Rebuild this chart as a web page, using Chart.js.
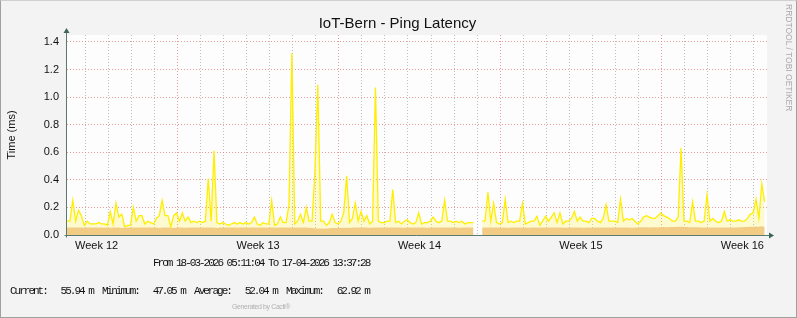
<!DOCTYPE html>
<html>
<head>
<meta charset="utf-8">
<title>IoT-Bern - Ping Latency</title>
<script src="https://cdn.jsdelivr.net/npm/chart.js@4/dist/chart.umd.min.js"></script>
<style>
  html, body { margin: 0; padding: 0; background: #f3f3f3; }
  #wrap { position: relative; width: 797px; height: 318px; overflow: hidden; }
  #frame { position: absolute; left: 0; top: 0; width: 797px; height: 318px; box-sizing: border-box;
           border: 1px solid; border-color: #d0d0d0 #a0a0a0 #a0a0a0 #a0a0a0; pointer-events: none; }
  canvas { position: absolute; left: 0; top: 0; }
  .txt { position: absolute; white-space: pre; }
  #title { left: 0; width: 795px; top: 14px; text-align: center; font: 15px/18px "Liberation Sans", Arial, sans-serif; color: #111; }
  .mono { font: 11px/12px "Liberation Mono", "Courier New", monospace; letter-spacing: -2px; color: #111; }
  #range { left: 153px; top: 257px; }
  #stats { left: 10px; top: 284.5px; }
  #cacti { left: 211px; width: 100px; text-align: center; top: 302px; font: 7px/9px "Liberation Sans", sans-serif; letter-spacing: -0.4px; color: #b0b0b0; }
  #rrd { left: 784px; top: 4px; writing-mode: vertical-rl; font: 8.5px/9px "Liberation Sans", sans-serif; color: #aaaaaa; }
</style>
</head>
<body>
<div id="wrap">
  <canvas id="chart" width="797" height="318"></canvas>
  <div class="txt" id="title">IoT-Bern - Ping Latency</div>
  <div class="txt mono" id="range">From 18-03-2026 05:11:04 To 17-04-2026 13:37:28</div>
  <div class="txt mono" id="stats">Current:   55.94 m  Minimum:   47.05 m  Average:   52.04 m  Maximum:   62.92 m</div>
  <div class="txt" id="cacti">Generated by Cacti®</div>
  <div class="txt" id="rrd">RRDTOOL / TOBI OETIKER</div>
  <div id="frame"></div>
</div>
<script>
// time window of the graph and sample step (rrd consolidation)
const startTime = '2026-03-18T05:11:04';
const endTime = '2026-04-17T13:37:28';
const stepHours = 3;

// max latency (ms), yellow line
const pingMax = [
  0.10, 0.10, 0.25, 0.10, 0.18, 0.14, 0.07, 0.10, 0.08, 0.08,
  0.08, 0.09, 0.08, 0.08, 0.07, 0.17, 0.08, 0.23, 0.13, 0.15,
  0.06, 0.07, 0.07, 0.20, 0.10, 0.14, 0.14, 0.08, 0.10, 0.09,
  0.08, 0.12, 0.14, 0.25, 0.14, 0.14, 0.06, 0.14, 0.16, 0.10,
  0.16, 0.10, 0.13, 0.09, 0.10, 0.09, 0.10, 0.09, 0.10, 0.41,
  0.10, 0.61, 0.09, 0.08, 0.09, 0.08, 0.07, 0.08, 0.09, 0.08,
  0.09, 0.08, 0.09, 0.08, 0.09, 0.13, 0.08, 0.07, 0.09, 0.08,
  0.08, 0.25, 0.07, 0.08, 0.13, 0.09, 0.09, 0.22, 1.32, 0.08,
  0.10, 0.15, 0.09, 0.20, 0.10, 0.10, 0.46, 1.09, 0.10, 0.10,
  0.07, 0.09, 0.15, 0.09, 0.08, 0.10, 0.16, 0.43, 0.09, 0.12,
  0.23, 0.10, 0.17, 0.10, 0.14, 0.08, 0.10, 1.07, 0.10, 0.09,
  0.09, 0.10, 0.10, 0.33, 0.09, 0.10, 0.08, 0.10, 0.11, 0.09,
  0.08, 0.09, 0.16, 0.08, 0.09, 0.09, 0.10, 0.13, 0.10, 0.09,
  0.10, 0.25, 0.10, 0.10, 0.09, 0.10, 0.09, 0.10, 0.08, 0.09,
  0.09, 0.09, null, null, 0.10, 0.10, 0.31, 0.10, 0.23, 0.09,
  0.08, 0.09, 0.26, 0.09, 0.10, 0.09, 0.10, 0.10, 0.23, 0.08,
  0.09, 0.10, 0.10, 0.135, 0.07, 0.10, 0.135, 0.10, 0.13, 0.16,
  0.09, 0.16, 0.08, 0.10, 0.10, 0.12, 0.17, 0.10, 0.13, 0.10,
  0.10, 0.09, 0.12, 0.12, 0.10, 0.09, 0.12, 0.22, 0.10, 0.10,
  0.10, 0.09, 0.26, 0.10, 0.12, 0.11, 0.12, 0.10, 0.08, 0.10,
  0.13, 0.14, 0.13, 0.12, 0.12, 0.14, 0.16, 0.14, 0.13, 0.12,
  0.10, 0.10, 0.13, 0.63, 0.10, 0.10, 0.09, 0.24, 0.10, 0.10,
  0.09, 0.10, 0.29, 0.10, 0.12, 0.10, 0.09, 0.10, 0.17, 0.10,
  0.11, 0.10, 0.10, 0.11, 0.10, 0.10, 0.12, 0.15, 0.16, 0.26,
  0.12, 0.37, 0.24
];

// average latency (ms), orange area
const pingAvg = [
  .055, .055, .055, .054, .055, .055, .055, .054, .055, .055,
  .055, .054, .055, .055, .054, .053, .055, .055, .054, .050,
  .055, .055, .055, .054, .055, .055, .055, .055, .054, .055,
  .055, .055, .050, .055, .055, .054, .055, .050, .055, .055,
  .055, .053, .055, .055, .054, .055, .055, .055, .054, .055,
  .055, .055, .050, .055, .055, .055, .054, .055, .055, .055,
  .055, .054, .055, .055, .055, .054, .055, .055, .055, .054,
  .055, .054, .055, .055, .055, .055, .055, .054, .055, .055,
  .055, .054, .055, .055, .052, .050, .049, .047, .048, .048,
  .048, .049, .050, .050, .051, .052, .052, .053, .053, .054,
  .055, .055, .054, .055, .055, .053, .054, .055, .055, .055,
  .055, .054, .055, .055, .054, .055, .055, .053, .055, .055,
  .055, .055, .054, .055, .055, .053, .055, .055, .055, .055,
  .055, .054, .055, .055, .055, .055, .053, .055, .055, .055,
  .055, .055, null, null, .055, .055, .055, .055, .055, .054,
  .055, .055, .055, .053, .055, .055, .055, .055, .055, .055,
  .053, .055, .055, .054, .055, .055, .055, .055, .054, .055,
  .055, .055, .055, .052, .055, .055, .055, .055, .055, .053,
  .055, .055, .053, .055, .055, .055, .055, .055, .055, .055,
  .055, .055, .054, .055, .055, .055, .053, .055, .055, .056,
  .056, .056, .055, .056, .056, .057, .057, .058, .057, .058,
  .058, .058, .059, .060, .059, .058, .057, .056, .056, .056,
  .055, .055, .055, .055, .054, .054, .054, .054, .054, .054,
  .055, .055, .055, .056, .057, .058, .058, .059, .060, .062,
  .060, .063, .058
];

const weekLabels = ['Week 12', 'Week 13', 'Week 14', 'Week 15', 'Week 16'];
const weekStarts = ['2026-03-16', '2026-03-23', '2026-03-30', '2026-04-06', '2026-04-13'];

const yMax = 1.45;
const yStep = 0.1;

// days since 18-03-2026 00:00 (local clock)
const day0 = Date.parse('2026-03-18T00:00:00Z');
function dayOf(s) {
  if (s.length === 10) s += 'T00:00:00';
  return (Date.parse(s + 'Z') - day0) / 864e5;
}

const xMin = dayOf(startTime);
const xMax = dayOf(endTime);
const toPoints = arr => arr.map((v, i) => ({ x: xMin + i * stepHours / 24, y: v }));

const weekDays = weekStarts.map(dayOf);

const redGrid = 'rgba(222, 120, 120, 0.75)';
const grayGrid = 'rgba(150, 150, 150, 0.6)';

const plotFrame = {
  id: 'plotFrame',
  beforeDraw(chart) {
    const { ctx, chartArea: a } = chart;
    ctx.save();
    ctx.fillStyle = '#fdfdfd';
    ctx.fillRect(a.left, a.top, a.right - a.left, a.bottom - a.top);
    ctx.restore();
  },
  afterDraw(chart) {
    const { ctx, chartArea: a } = chart;
    const ax = Math.round(a.left) - 0.5;
    const ay = Math.round(a.bottom) + 0.5;
    ctx.save();
    ctx.strokeStyle = '#5a7a70';
    ctx.fillStyle = '#3f6458';
    ctx.lineWidth = 1;
    ctx.beginPath();
    ctx.moveTo(ax, ay + 2);
    ctx.lineTo(ax, a.top - 2);
    ctx.moveTo(ax - 2, ay);
    ctx.lineTo(a.right + 2, ay);
    ctx.stroke();
    ctx.beginPath();
    ctx.moveTo(ax - 3, a.top - 2);
    ctx.lineTo(ax + 3, a.top - 2);
    ctx.lineTo(ax, a.top - 7);
    ctx.closePath();
    ctx.fill();
    ctx.beginPath();
    ctx.moveTo(a.right + 2, ay - 3);
    ctx.lineTo(a.right + 2, ay + 3);
    ctx.lineTo(a.right + 7, ay);
    ctx.closePath();
    ctx.fill();
    ctx.restore();
  }
};

const ctx = document.getElementById('chart').getContext('2d');

new Chart(ctx, {
  type: 'line',
  data: {
    datasets: [{
      label: 'Max',
      data: toPoints(pingMax),
      borderColor: '#ffee00',
      borderWidth: 1.3,
      backgroundColor: 'rgba(255, 240, 0, 0.18)',
      fill: 1,
      pointRadius: 0,
      tension: 0,
      spanGaps: false,
      order: 0
    }, {
      label: 'Average',
      data: toPoints(pingAvg),
      borderColor: 'rgba(0,0,0,0)',
      borderWidth: 0,
      backgroundColor: '#f2cb84',
      fill: 'origin',
      pointRadius: 0,
      tension: 0,
      spanGaps: false,
      order: 1
    }]
  },
  options: {
    responsive: false,
    animation: false,
    layout: { padding: { top: 35, right: 30, left: 0, bottom: 0 } },
    scales: {
      x: {
        type: 'linear',
        min: xMin,
        max: xMax,
        afterFit: s => { s.height = 83; },
        afterBuildTicks: s => {
          const t = [];
          for (let d = Math.ceil(xMin); d <= xMax; d++) {
            t.push({ value: d, major: weekDays.includes(d) });
          }
          weekDays.forEach((d, i) => {
            const c = d + 3.5;
            if (c >= xMin && c <= xMax) t.push({ value: c, text: weekLabels[i] });
          });
          s.ticks = t;
        },
        grid: {
          drawTicks: false,
          color: c => {
            const t = c.tick;
            if (!t || t.text) return 'rgba(0,0,0,0)';
            return t.major ? redGrid : grayGrid;
          }
        },
        border: { display: false, dash: [1, 2] },
        ticks: {
          autoSkip: false,
          maxRotation: 0,
          minRotation: 0,
          padding: 4,
          color: '#111',
          font: { family: 'Liberation Sans', size: 11 },
          callback: function (v, i, ticks) { return ticks[i].text || ''; }
        }
      },
      y: {
        min: 0,
        max: yMax,
        afterFit: s => { s.width = 67; },
        grid: {
          drawTicks: false,
          color: c => {
            if (!c.tick) return 'rgba(0,0,0,0)';
            const k = Math.round(c.tick.value / yStep);
            if (k === 0) return 'rgba(0,0,0,0)';
            return k % 2 === 0 ? redGrid : grayGrid;
          }
        },
        border: { display: false, dash: [1, 2] },
        ticks: {
          stepSize: yStep,
          includeBounds: false,
          padding: 8,
          color: '#111',
          font: { family: 'Liberation Sans', size: 11 },
          callback: v => {
            const k = Math.round(v / yStep);
            return k % 2 === 0 ? (k * yStep).toFixed(1) : '';
          }
        },
        title: {
          display: true,
          text: 'Time (ms)',
          color: '#111',
          padding: { top: 5, bottom: 0 },
          font: { family: 'Liberation Sans', size: 11 }
        }
      }
    },
    plugins: {
      legend: { display: false },
      tooltip: { enabled: false },
      title: { display: false }
    }
  },
  plugins: [plotFrame]
});
</script>
</body>
</html>
